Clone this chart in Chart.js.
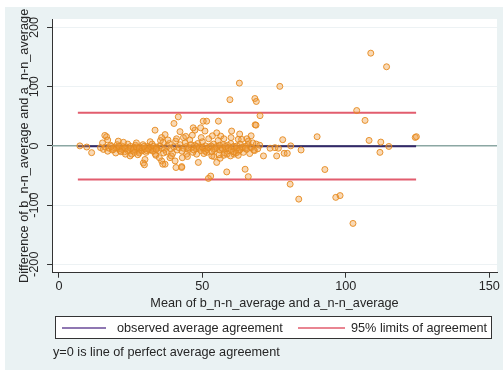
<!DOCTYPE html>
<html>
<head>
<meta charset="utf-8">
<script src="https://cdn.jsdelivr.net/npm/chart.js@4/dist/chart.umd.min.js"></script>
<style>
  body { margin: 0; background: #ffffff; }
  canvas { display: block; }
</style>
</head>
<body>
<canvas id="baChart" width="503" height="372"></canvas>
<script>
// values: [mean, difference]
const outlierPoints = [
    [108.7, 156.6], [114.2, 133.6], [77.0, 100.5], [62.9, 106], [59.6, 78], [68.3, 80], [68.8, 75],
    [70.1, 51], [103.8, 59.7], [106.7, 43], [68.4, 35.6], [90, 15.4], [108.1, 9.2], [112.2, 6.4],
    [124.2, 14.3], [124.6, 15.5], [115, -1], [111.9, -11], [78, 10.4], [80.8, 0], [84.4, -7],
    [71.3, -17], [75.9, -17], [78.5, -12.6], [79.6, -12.6], [73.6, -4], [75.3, -3], [76.5, -4],
    [66.8, -2], [67.9, -7], [68.8, 3], [92.7, -40], [80.6, -64.7], [83.6, -90], [96.5, -87],
    [98, -84], [102.5, -131]
];
const middlePoints = [
    [50.3, 41.7], [51.5, 41.7], [55.6, 41.7], [68.7, 35], [47.4, 26.5], [49.4, 30.5], [50.9, 25],
    [60.2, 25], [62.5, 11], [63.7, 11], [66, 8], [42.8, -35], [48.6, -28], [56.2, -21], [64.9, -39.5],
    [52.9, -51], [52.1, -55], [66, -52], [58.5, -44], [55, -28], [51.5, -11], [53.3, -17], [46.8, 30.5],
    [56.4, 16.5]
];
const leftPoints = [
    [41.6, 49], [40.1, 37.8], [33.5, 26.5], [42.2, 24], [43.4, 14], [37, 19], [35.8, 14], [20.7, 8],
    [16, 17.6], [16.6, 15.5], [15.2, 5], [7.3, 0], [9.7, -2], [11.4, -11.5], [24.8, -17], [30, -23],
    [29.4, -29], [29.8, -32], [33.8, -16], [35.8, -25.5], [37, -31], [40.5, -25.5], [40.8, -36.6],
    [42.8, -36.6], [38.7, -20], [48, -14], [44.5, -14], [25.4, -14], [36.2, -31]
];
const clusterPoints = [
    [14.5, -3], [15.5, -6], [16.2, -2], [17, -9], [17.5, -4], [18, 1], [18.6, -7], [19.2, -3], [19.8, -12],
    [20.3, 2], [20.8, -5], [21.3, -8], [21.8, 0], [22.4, -4], [22.9, -10], [23.5, -2], [24, 3], [24.5, -6],
    [25, -1], [25.6, -8], [26.1, -3], [26.7, 1], [27.2, -5], [27.8, -9], [28.3, -2], [28.8, -6], [29.3, 2],
    [29.9, -4], [30.4, -11], [30.9, -1], [31.5, -7], [32, -3], [32.5, 3], [33, -5], [33.6, -14], [34.1, -2],
    [34.6, -8], [35.2, 0], [35.7, -4], [36.3, 6], [36.8, -6], [37.4, -10], [37.9, -1], [38.5, 4], [39, -5],
    [39.6, -13], [40.1, -2], [40.7, 8], [41.2, -7], [41.8, -3], [42.3, 2], [42.9, -9], [43.4, -4], [44, 5],
    [44.5, -1], [45.1, -6], [45.6, 10], [46.2, -3], [46.7, -11], [47.3, 1], [47.8, -5], [48.4, 4], [48.9, -2],
    [49.5, -8], [50, 7], [50.6, -4], [51.1, 0], [51.7, -6], [52.2, 12], [52.8, -2], [53.3, -10], [53.9, 3],
    [54.4, -5], [55, -1], [55.5, 9], [56.1, -7], [56.6, -3], [57.2, 2], [57.7, -12], [58.3, -5], [58.8, 1],
    [59.4, -8], [59.9, 4], [60.5, -2], [61, -14], [61.6, -6], [62.1, 0], [62.7, -9], [63.2, 3], [63.8, -4],
    [64.3, -11], [64.9, -1], [65.4, -6], [66, 2], [66.5, -13], [67.1, -3], [67.6, 5], [68.2, -8], [69.3, -5],
    [70, 1],
    [20, -3], [21, -1], [22, -6], [23, -4], [24, -8], [25, -4], [26, -6], [27, -2], [28, -4], [29, -8],
    [30, -5], [31, -3], [32, -7], [33, -1], [34, -4], [31.2, -5], [30.6, -8], [29.6, -1], [32.8, -9],
    [33.9, -6], [21.6, -10], [19, -6], [18.2, -1], [26.4, -11], [28, -12],
    [45, -3], [46, 2], [47, -7], [48, -1], [49, -4], [50, -2], [51, -9], [52, -3], [53, 0], [54, -6],
    [55, -3], [56, 1], [57, -5], [58, -1], [59, -3], [60, -6], [61, -1], [62, -4], [63, -7], [64, -2],
    [65, -4], [58.6, -14], [59.8, -17], [60.8, -10], [57.4, -16], [61.8, -12], [62.5, -16], [55.8, -15],
    [54, -18], [50.5, -13], [44.8, -18], [43, -20], [39.2, -17], [36.5, -12], [35, -20], [27.5, -15], [23.2, -14],
    [38, 10], [41, 12], [44.2, 16], [46.5, 18], [49.6, 14], [53.5, 17], [55, 22], [57.5, 12], [60, 14],
    [63, 20], [65.5, 12], [67, 17], [35.4, 9], [31.8, 7], [27, 5], [22.5, 6], [17, 10]
];

const meanDiff = -0.5;
const limits = [56, -57];          // 95% limits of agreement
const lineSpan = [6.6, 124.5];     // x extent of the agreement lines
const xTicks = [0, 50, 100, 150];
const yTicks = [-200, -100, 0, 100, 200];

const xTitle = 'Mean of b_n-n_average and a_n-n_average';
const yTitle = 'Difference of b_n-n_average and a_n-n_average';
const legendLabels = ['observed average agreement', '95% limits of agreement'];
const noteText = 'y=0 is line of perfect average agreement';

// colours
const outerBg = '#eaf2f3';
const textColor = '#262626';
const meanColor = '#34296a';
const limitColor = '#e25d6e';
const zeroColor = '#8ba7a3';
const font = { family: 'Liberation Sans, Arial, sans-serif', size: 12.7 };

const allPoints = [...outlierPoints, ...middlePoints, ...leftPoints, ...clusterPoints];
const segment = (y) => [{ x: lineSpan[0], y }, { x: lineSpan[1], y }];

// backgrounds + custom text (rotated y labels, legend box, note)
const stataFrame = {
    id: 'stataFrame',
    beforeDraw(chart) {
        const { ctx, chartArea: a } = chart;
        ctx.save();
        ctx.fillStyle = '#ffffff';
        ctx.fillRect(0, 0, chart.width, chart.height);
        ctx.fillStyle = outerBg;
        ctx.fillRect(5, 7, chart.width - 5, chart.height - 9);
        ctx.fillStyle = '#ffffff';
        ctx.fillRect(a.left, a.top, a.right - a.left, a.bottom - a.top);
        ctx.restore();
    },
    afterDraw(chart) {
        const { ctx } = chart;
        const y = chart.scales.y;
        ctx.save();
        ctx.font = `${font.size}px ${font.family}`;
        ctx.fillStyle = textColor;

        // y tick labels, vertical like Stata
        ctx.textAlign = 'center';
        ctx.textBaseline = 'middle';
        yTicks.forEach(v => {
            ctx.save();
            ctx.translate(34, y.getPixelForValue(v));
            ctx.rotate(-Math.PI / 2);
            ctx.fillText(String(v), 0, 0);
            ctx.restore();
        });

        // legend box
        ctx.fillStyle = '#ffffff';
        ctx.fillRect(55, 316, 437, 23);
        ctx.strokeStyle = '#333333';
        ctx.lineWidth = 1;
        ctx.strokeRect(55.5, 316.5, 436, 22);

        ctx.lineWidth = 1.5;
        ctx.strokeStyle = '#6a4a98';
        ctx.beginPath(); ctx.moveTo(62, 328); ctx.lineTo(106, 328); ctx.stroke();
        ctx.strokeStyle = limitColor;
        ctx.beginPath(); ctx.moveTo(298, 328); ctx.lineTo(345, 328); ctx.stroke();

        ctx.fillStyle = textColor;
        ctx.textAlign = 'left';
        ctx.fillText(legendLabels[0], 117, 328);
        ctx.fillText(legendLabels[1], 351, 328);

        // note
        ctx.fillText(noteText, 53, 352);
        ctx.restore();
    }
};

new Chart(document.getElementById('baChart'), {
    type: 'scatter',
    data: {
        datasets: [
            {
                label: 'difference',
                data: allPoints.map(([x, y]) => ({ x, y })),
                pointRadius: 3,
                borderWidth: 1,
                borderColor: 'rgba(230,138,30,0.9)',
                backgroundColor: 'rgba(238,155,60,0.38)',
            },
            {
                type: 'line',
                label: legendLabels[0],
                data: segment(meanDiff),
                borderColor: meanColor,
                borderWidth: 2,
                pointRadius: 0,
            },
            {
                type: 'line',
                label: legendLabels[1],
                data: segment(limits[0]),
                borderColor: limitColor,
                borderWidth: 2,
                pointRadius: 0,
            },
            {
                type: 'line',
                label: 'upper',
                data: segment(limits[1]),
                borderColor: limitColor,
                borderWidth: 2,
                pointRadius: 0,
            },
            {
                type: 'line',
                label: 'zero',
                data: [{ x: -2.4, y: 0 }, { x: 152.7, y: 0 }],
                borderColor: zeroColor,
                borderWidth: 1.5,
                pointRadius: 0,
            },
        ],
    },
    options: {
        responsive: false,
        animation: false,
        layout: { padding: { left: 4, top: 19, right: 6, bottom: 61 } },
        scales: {
            x: {
                type: 'linear',
                min: -2.4,
                max: 152.7,
                afterBuildTicks: (s) => { s.ticks = xTicks.map(v => ({ value: v })); },
                ticks: { color: textColor, font, padding: 1.4, maxRotation: 0 },
                grid: { display: true, drawOnChartArea: false, tickLength: 5, tickColor: '#333333' },
                border: { color: '#333333', width: 1 },
                title: { display: true, text: xTitle, color: textColor, font, padding: { top: 0, bottom: 0 } },
            },
            y: {
                type: 'linear',
                min: -214.3,
                max: 214.3,
                afterBuildTicks: (s) => { s.ticks = yTicks.map(v => ({ value: v })); },
                ticks: { display: false },
                grid: { color: '#edf2f4', lineWidth: 1, tickLength: 5, tickColor: '#333333' },
                border: { color: '#333333', width: 1 },
                title: { display: true, text: yTitle, color: textColor, font, padding: { top: 12.9, bottom: 14.9 } },
            },
        },
        plugins: {
            legend: { display: false },
            tooltip: { enabled: false },
        },
    },
    plugins: [stataFrame],
});
</script>
</body>
</html>
